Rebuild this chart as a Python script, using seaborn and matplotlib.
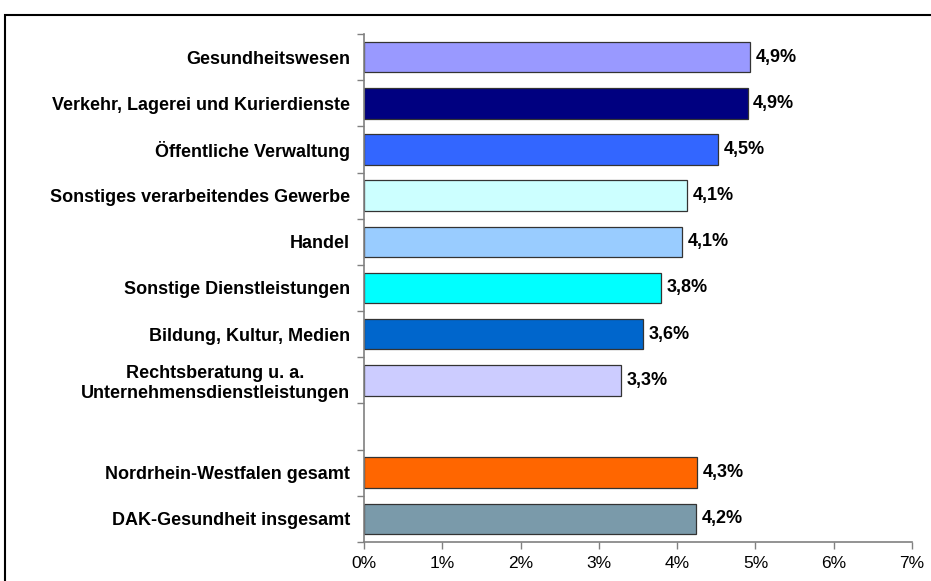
import matplotlib
matplotlib.use("Agg")
import matplotlib.pyplot as plt
import matplotlib.ticker as mticker
from matplotlib.patches import Rectangle
import pandas as pd
import seaborn as sns

# ── Data ──────────────────────────────────────────────────────────────────────
categories = [
    "Gesundheitswesen",
    "Verkehr, Lagerei und Kurierdienste",
    "Öffentliche Verwaltung",
    "Sonstiges verarbeitendes Gewerbe",
    "Handel",
    "Sonstige Dienstleistungen",
    "Bildung, Kultur, Medien",
    "Rechtsberatung u. a.\nUnternehmensdienstleistungen",
    " ",
    "Nordrhein-Westfalen gesamt",
    "DAK-Gesundheit insgesamt",
]
values = [4.93, 4.90, 4.52, 4.13, 4.06, 3.80, 3.56, 3.28, None, 4.26, 4.24]
value_labels = ["4,9%", "4,9%", "4,5%", "4,1%", "4,1%", "3,8%", "3,6%", "3,3%",
                "", "4,3%", "4,2%"]
colors = ["#9999FF", "#000080", "#3366FF", "#CCFFFF", "#99CCFF", "#00FFFF",
          "#0066CC", "#CCCCFF", "#FFFFFF", "#FF6600", "#7A9AAA"]

df = pd.DataFrame({"branche": categories, "wert": values})

# ── Style ─────────────────────────────────────────────────────────────────────
sns.set_style("white")
plt.rcParams["font.family"] = ["Liberation Sans", "DejaVu Sans"]
plt.rcParams["text.color"] = "black"
plt.rcParams["xtick.color"] = "black"
plt.rcParams["ytick.color"] = "black"

fig = plt.figure(figsize=(9.31, 5.81), dpi=100)
ax = fig.add_axes([364 / 931, 39 / 581, 548 / 931, 508 / 581])

sns.barplot(
    data=df, y="branche", x="wert", hue="branche", order=categories,
    palette=dict(zip(categories, colors)), legend=False, saturation=1,
    orient="h", width=0.66, edgecolor="#333333", linewidth=0.9, ax=ax,
)

# Value labels
for i, (val, lab) in enumerate(zip(values, value_labels)):
    if val is None:
        continue
    ax.text(val + 0.07, i, lab, va="center", ha="left",
            fontsize=13, fontweight="bold", color="black")

ax.set_xlim(0, 7)
ax.set_ylim(len(categories) - 0.5, -0.5)
ax.xaxis.set_major_locator(mticker.MultipleLocator(1))
ax.xaxis.set_major_formatter(mticker.FuncFormatter(lambda v, _: f"{v:.0f}%"))
ax.set_xlabel("")
ax.set_ylabel("")

# Category labels at centres, tick marks at boundaries (Excel look)
ax.set_yticks(range(len(categories)))
ax.set_yticklabels(categories, fontsize=13, fontweight="bold",
                   multialignment="center", color="black")
ax.set_yticks([i - 0.5 for i in range(len(categories) + 1)], minor=True)
ax.tick_params(axis="y", which="major", length=0, pad=10)
ax.tick_params(axis="y", which="minor", length=5, direction="out",
               color="#808080", width=1, left=True)
ax.tick_params(axis="x", length=5, direction="out", color="#808080",
               width=1, labelsize=12.5, pad=5, bottom=True, labelcolor="black")

for side in ["top", "right"]:
    ax.spines[side].set_visible(False)
for side in ["left", "bottom"]:
    ax.spines[side].set_visible(True)
    ax.spines[side].set_color("#808080")
    ax.spines[side].set_linewidth(1.2)
ax.grid(False)

# Outer chart frame (runs off right/bottom edge as in the source)
fig.patches.append(Rectangle((5 / 931, -0.05), 1.0, 1 - 15 / 581 + 0.05,
                             transform=fig.transFigure, fill=False,
                             edgecolor="black", linewidth=1.5))

fig.savefig("out.png", dpi=100)
